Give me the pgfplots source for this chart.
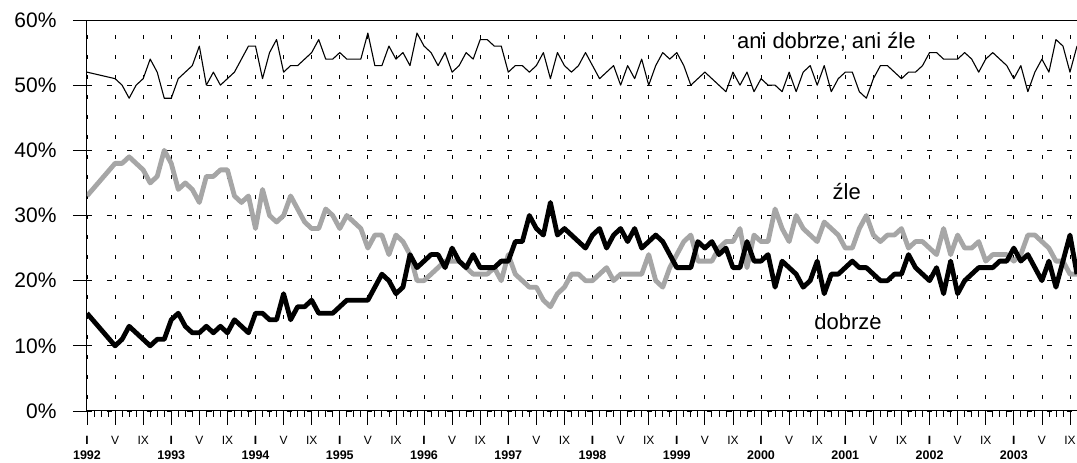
\documentclass[border=0pt]{standalone}
\usepackage{fontspec}
\setmainfont{Liberation Sans}
\usepackage{pgfplots}
\pgfplotsset{compat=1.18}
\definecolor{zlegray}{RGB}{166,166,166}

\newcommand{\yr}[1]{\textbf{I}\\[1.5pt]{\fontsize{12.5}{14}\selectfont\bfseries #1}}

\begin{document}
\begin{tikzpicture}
\useasboundingbox (-87pt,-52pt) rectangle (990pt,411pt);
\begin{axis}[
    at={(0,0)}, anchor=south west,
    scale only axis, width=990pt, height=391pt,
    xmin=0, xmax=141, ymin=0, ymax=60,
    axis line style={line width=1pt},
    tick pos=left, tick align=outside,
    tick style={black, line width=0.8pt},
    major tick length=14pt, minor tick length=6pt,
    xtick={0,4,...,140}, minor x tick num=3,
    xticklabels={\yr{1992},V,IX,\yr{1993},V,IX,\yr{1994},V,IX,\yr{1995},V,IX,
                 \yr{1996},V,IX,\yr{1997},V,IX,\yr{1998},V,IX,\yr{1999},V,IX,
                 \yr{2000},V,IX,\yr{2001},V,IX,\yr{2002},V,IX,\yr{2003},V,IX},
    xticklabel style={font=\fontsize{12}{13.8}\selectfont, align=center, yshift=-7.5pt},
    ytick={0,10,...,60},
    yticklabels={0\%,10\%,20\%,30\%,40\%,50\%,60\%},
    yticklabel style={font=\fontsize{21}{25}\selectfont, xshift=-13pt},
    xmajorgrids, ymajorgrids,
    x grid style={black, line width=0.8pt, dash pattern=on 4pt off 16pt, dash phase=8pt},
    y grid style={black, line width=0.8pt, dash pattern=on 5pt off 15pt},
]
% ani dobrze, ani zle
\addplot[black, line width=1.1pt, line join=round] coordinates {
(0,52) (4,51) (5,50) (6,48) (7,50) (8,51) (9,54) (10,52) (11,48) (12,48)
(13,51) (14,52) (15,53) (16,56) (17,50) (18,52) (19,50) (20,51) (21,52) (22,54)
(23,56) (24,56) (25,51) (26,55) (27,57) (28,52) (29,53) (30,53) (31,54) (32,55)
(33,57) (34,54) (35,54) (36,55) (37,54) (38,54) (39,54) (40,58) (41,53) (42,53)
(43,56) (44,54) (45,55) (46,53) (47,58) (48,56) (49,55) (50,53) (51,55) (52,52)
(53,53) (54,55) (55,54) (56,57) (57,57) (58,56) (59,56) (60,52) (61,53) (62,53)
(63,52) (64,53) (65,55) (66,51) (67,55) (68,53) (69,52) (70,53) (71,55) (72,53)
(73,51) (74,52) (75,53) (76,50) (77,53) (78,51) (79,54) (80,50) (81,53) (82,55)
(83,54) (84,55) (85,53) (86,50) (87,51) (88,52) (89,51) (90,50) (91,49) (92,52)
(93,50) (94,52) (95,49) (96,51) (97,50) (98,50) (99,49) (100,52) (101,49) (102,52)
(103,53) (104,50) (105,53) (106,49) (107,51) (108,52) (109,52) (110,49) (111,48) (112,51)
(113,53) (114,53) (115,52) (116,51) (117,52) (118,52) (119,53) (120,55) (121,55) (122,54)
(123,54) (124,54) (125,55) (126,54) (127,52) (128,54) (129,55) (130,54) (131,53) (132,51)
(133,53) (134,49) (135,52) (136,54) (137,52) (138,57) (139,56) (140,52) (141,56)};
% zle
\addplot[zlegray, line width=4.8pt, line join=round] coordinates {
(0,33) (4,38) (5,38) (6,39) (7,38) (8,37) (9,35) (10,36) (11,40) (12,38)
(13,34) (14,35) (15,34) (16,32) (17,36) (18,36) (19,37) (20,37) (21,33) (22,32)
(23,33) (24,28) (25,34) (26,30) (27,29) (28,30) (29,33) (30,31) (31,29) (32,28)
(33,28) (34,31) (35,30) (36,28) (37,30) (38,29) (39,28) (40,25) (41,27) (42,27)
(43,24) (44,27) (45,26) (46,24) (47,20) (48,20) (49,21) (50,22) (51,23) (52,23)
(53,23) (54,22) (55,21) (56,21) (57,21) (58,22) (59,20) (60,24) (61,21) (62,20)
(63,19) (64,19) (65,17) (66,16) (67,18) (68,19) (69,21) (70,21) (71,20) (72,20)
(73,21) (74,22) (75,20) (76,21) (77,21) (78,21) (79,21) (80,24) (81,20) (82,19)
(83,22) (84,24) (85,26) (86,27) (87,23) (88,23) (89,23) (90,25) (91,26) (92,26)
(93,28) (94,22) (95,27) (96,26) (97,26) (98,31) (99,28) (100,26) (101,30) (102,28)
(103,27) (104,26) (105,29) (106,28) (107,27) (108,25) (109,25) (110,28) (111,30) (112,27)
(113,26) (114,27) (115,27) (116,28) (117,25) (118,26) (119,26) (120,25) (121,24) (122,28)
(123,24) (124,27) (125,25) (126,25) (127,26) (128,23) (129,24) (130,24) (131,24) (132,23)
(133,24) (134,27) (135,27) (136,26) (137,25) (138,23) (139,23) (140,21) (141,21)};
% dobrze
\addplot[black, line width=4.8pt, line join=round] coordinates {
(0,15) (4,10) (5,11) (6,13) (7,12) (8,11) (9,10) (10,11) (11,11) (12,14)
(13,15) (14,13) (15,12) (16,12) (17,13) (18,12) (19,13) (20,12) (21,14) (22,13)
(23,12) (24,15) (25,15) (26,14) (27,14) (28,18) (29,14) (30,16) (31,16) (32,17)
(33,15) (34,15) (35,15) (36,16) (37,17) (38,17) (39,17) (40,17) (41,19) (42,21)
(43,20) (44,18) (45,19) (46,24) (47,22) (48,23) (49,24) (50,24) (51,22) (52,25)
(53,23) (54,22) (55,24) (56,22) (57,22) (58,22) (59,23) (60,23) (61,26) (62,26)
(63,30) (64,28) (65,27) (66,32) (67,27) (68,28) (69,27) (70,26) (71,25) (72,27)
(73,28) (74,25) (75,27) (76,28) (77,26) (78,28) (79,25) (80,26) (81,27) (82,26)
(83,24) (84,22) (85,22) (86,22) (87,26) (88,25) (89,26) (90,24) (91,25) (92,22)
(93,22) (94,26) (95,23) (96,23) (97,24) (98,19) (99,23) (100,22) (101,21) (102,19)
(103,20) (104,23) (105,18) (106,21) (107,21) (108,22) (109,23) (110,22) (111,22) (112,21)
(113,20) (114,20) (115,21) (116,21) (117,24) (118,22) (119,21) (120,20) (121,22) (122,18)
(123,23) (124,18) (125,20) (126,21) (127,22) (128,22) (129,22) (130,23) (131,23) (132,25)
(133,23) (134,24) (135,22) (136,20) (137,23) (138,19) (139,23) (140,27) (141,21)};
\node[anchor=base, font=\fontsize{22}{26}\selectfont] at (axis cs:105.3,55.7) {ani dobrze, ani źle};
\node[anchor=base, font=\fontsize{22}{26}\selectfont] at (axis cs:108.2,32.4) {źle};
\node[anchor=base, font=\fontsize{22}{26}\selectfont] at (axis cs:108.4,12.5) {dobrze};
\end{axis}
\end{tikzpicture}
\end{document}
